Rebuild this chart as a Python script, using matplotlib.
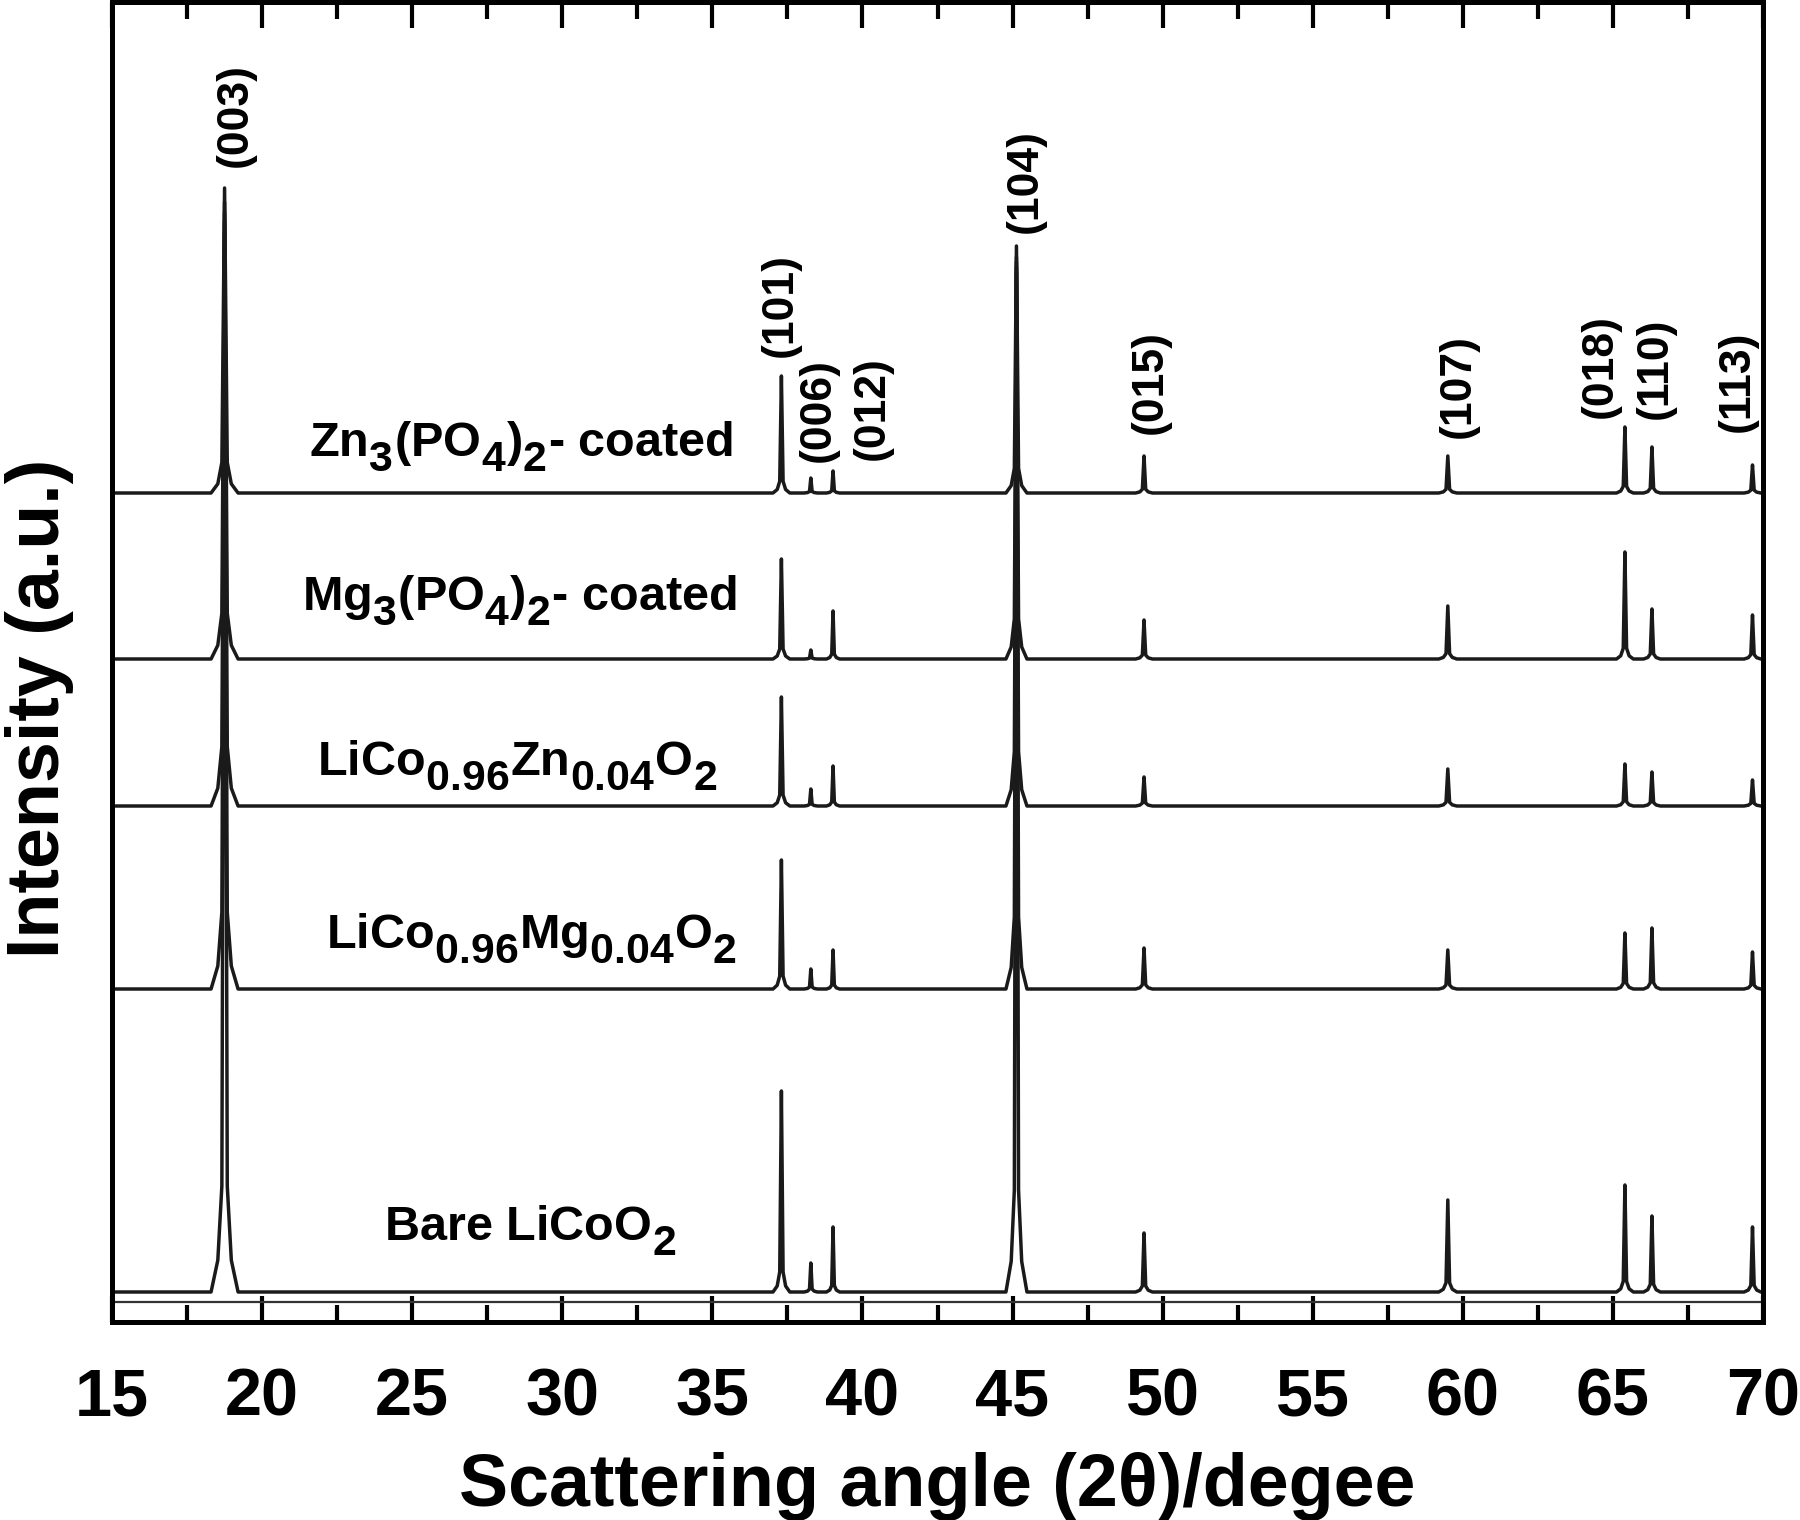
import matplotlib
matplotlib.use("Agg")
import matplotlib.pyplot as plt
from matplotlib.ticker import MultipleLocator

try:
    import matplotlib._mathtext as _mt
    _mt.SHRINK_FACTOR = 0.88
    _mt.FontConstantsBase.sub1 = 0.6
    _mt.FontConstantsBase.sub2 = 0.7
except Exception:
    pass

plt.rcParams['font.family'] = ['Liberation Sans', 'DejaVu Sans']
plt.rcParams['font.weight'] = 'bold'
plt.rcParams['mathtext.fontset'] = 'custom'
plt.rcParams['mathtext.rm'] = 'Liberation Sans:bold'
plt.rcParams['mathtext.it'] = 'Liberation Sans:bold'
plt.rcParams['mathtext.bf'] = 'Liberation Sans:bold'
plt.rcParams['mathtext.default'] = 'rm'

# ---------------- data ----------------
hkl_labels = ['(003)', '(101)', '(006)', '(012)', '(104)', '(015)', '(107)', '(018)', '(110)', '(113)']
peak_pos = [18.75, 37.30, 38.28, 39.02, 45.13, 49.38, 59.50, 65.40, 66.30, 69.65]
peak_halfwidth = [0.45, 0.28, 0.22, 0.22, 0.35, 0.28, 0.30, 0.28, 0.28, 0.28]

series_names = [r'Zn$_3$(PO$_4$)$_2$- coated',
                r'Mg$_3$(PO$_4$)$_2$- coated',
                r'LiCo$_{0.96}$Zn$_{0.04}$O$_2$',
                r'LiCo$_{0.96}$Mg$_{0.04}$O$_2$',
                r'Bare LiCoO$_2$']
baselines = [829, 663, 516, 333, 30]
zn_coated = [305, 117, 15, 22, 247, 37, 37, 66, 46, 28]
mg_coated = [457, 100, 9, 48, 402, 39, 53, 107, 50, 44]
zn_doped = [594, 109, 17, 40, 544, 29, 37, 42, 34, 26]
mg_doped = [767, 129, 20, 39, 722, 41, 39, 56, 61, 37]
bare = [1060, 201, 29, 65, 1020, 59, 92, 107, 76, 65]
series_heights = [zn_coated, mg_coated, zn_doped, mg_doped, bare]

# label positions (2theta, intensity a.u.)
hkl_label_x = [19.10, 37.25, 38.52, 40.32, 45.41, 49.60, 59.84, 64.57, 66.40, 69.13]
hkl_label_y = [1207, 1017, 912, 914, 1141, 940, 936, 956, 954, 941]
name_x = [28.62, 28.59, 28.50, 28.99, 28.92]
name_y = [866, 712, 547, 374, 82]

x_min, x_max = 15, 70
y_max = 1320

# peak outline template: (fraction of half width, fraction of height)
template = [(-1.0, 0.0), (-0.5, 0.03), (-0.2, 0.10), (0.0, 1.0), (0.2, 0.10), (0.5, 0.03), (1.0, 0.0)]

fig = plt.figure(figsize=(18, 15.2), dpi=100)
ax = fig.add_axes([112/1800, 1-1322/1520, (1763-112)/1800, (1322-2)/1520])

for base, heights in zip(baselines, series_heights):
    xs = [x_min]
    ys = [base]
    for p, w, h in zip(peak_pos, peak_halfwidth, heights):
        for fx, fy in template:
            xs.append(p + fx * w)
            ys.append(base + fy * h)
    xs.append(x_max)
    ys.append(base)
    ax.plot(xs, ys, color='#1a1a1a', lw=2.5, solid_joinstyle='round', clip_on=True)

ax.axhline(20, color='#333333', lw=1.6)

for lab, lx, ly in zip(hkl_labels, hkl_label_x, hkl_label_y):
    ax.text(lx, ly, lab, rotation=90, ha='center', va='center', fontsize=32, fontweight='bold')

for nm, nx, ny in zip(series_names, name_x, name_y):
    ax.text(nx, ny, nm, ha='center', va='baseline', fontsize=35, fontweight='bold')

ax.set_xlim(x_min, x_max)
ax.set_ylim(0, y_max)
ax.xaxis.set_major_locator(MultipleLocator(5))
ax.xaxis.set_minor_locator(MultipleLocator(2.5))
ax.tick_params(axis='x', which='major', direction='in', top=True, bottom=True,
               length=19, width=3, labelsize=48, pad=33)
ax.tick_params(axis='x', which='minor', direction='in', top=True, bottom=True,
               length=12, width=3)
ax.tick_params(axis='y', left=False, right=False, labelleft=False)
for sp in ax.spines.values():
    sp.set_linewidth(3.6)

ax.set_xlabel('Scattering angle (2θ)/degee', fontsize=53, fontweight='bold', labelpad=16)
ax.set_ylabel('Intensity (a.u.)', fontsize=53, fontweight='bold')
ax.yaxis.set_label_coords(-0.023, 0.465)

fig.savefig('out.png', dpi=100)
